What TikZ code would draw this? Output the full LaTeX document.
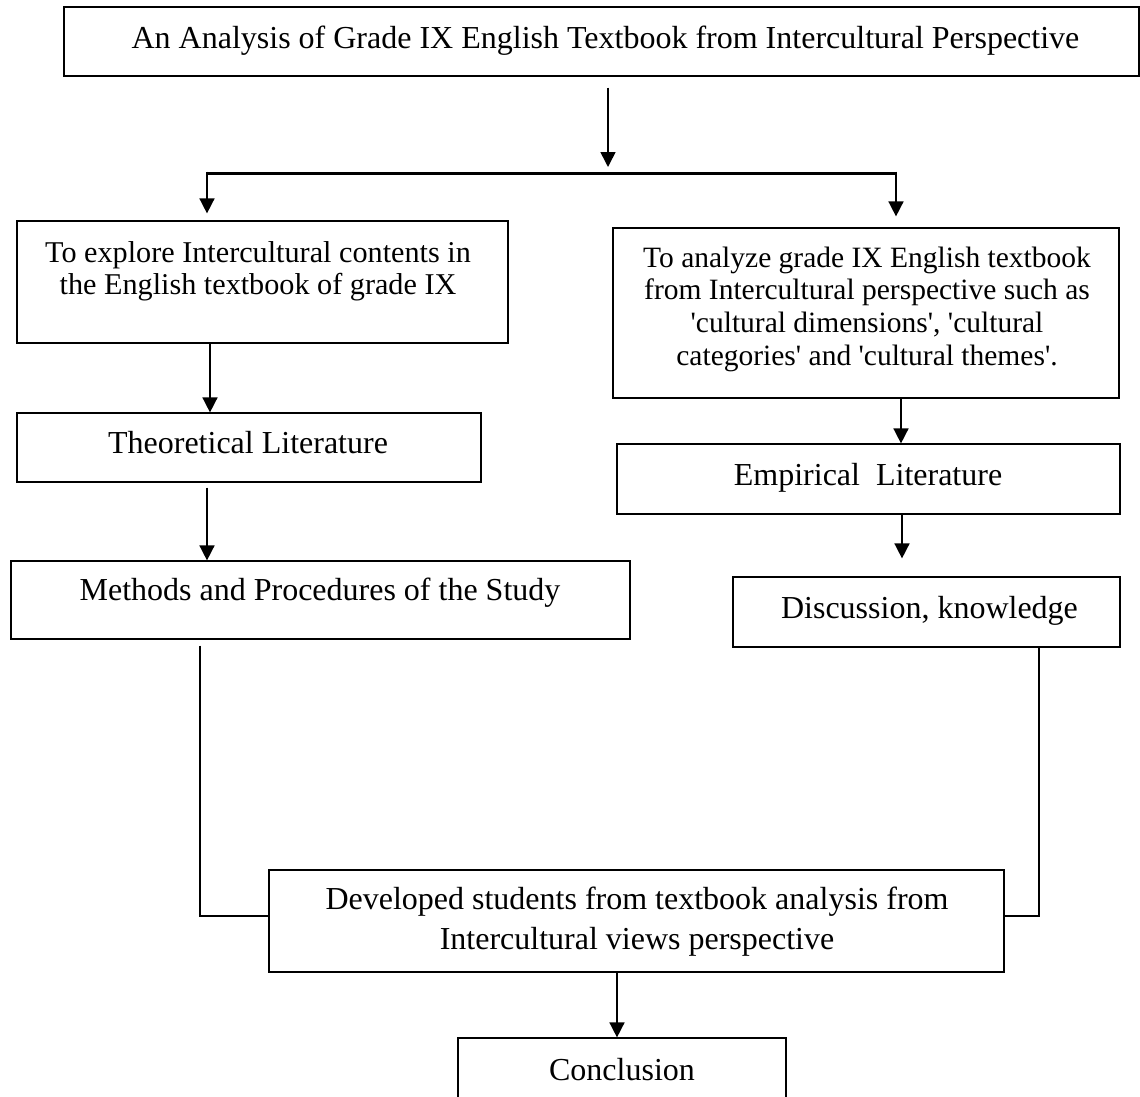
\documentclass[tikz,border=0pt]{standalone}
\usepackage{fontspec}
\newfontfamily\tnr{Liberation Serif}
\usetikzlibrary{arrows.meta,calc}
\begin{document}
\begin{tikzpicture}[x=1pt,y=-1pt,
  box/.style={draw, line width=1.2pt, inner sep=0pt},
  txt/.style={font=\tnr\fontsize{32}{33}\selectfont, inner sep=0pt, anchor=base},
  txtL/.style={font=\tnr\fontsize{30.2}{32}\selectfont, inner sep=0pt, anchor=base},
  txtR/.style={font=\tnr\fontsize{29.5}{32}\selectfont, inner sep=0pt, anchor=base},
  arr/.style={line width=1.6pt, -{Triangle[width=15pt,length=15pt]}},
  bar/.style={line width=3pt},
  joinline/.style={line width=1.8pt}]
\useasboundingbox (0,0) rectangle (1140,1097);
% boxes
\node[box, minimum width=1075pt, minimum height=69pt]  (T)   at (601.5,41.5) {};
\node[box, minimum width=491pt,  minimum height=122pt] (L1)  at (262.5,282) {};
\node[box, minimum width=464pt,  minimum height=69pt]  (Th)  at (249,447.5) {};
\node[box, minimum width=619pt,  minimum height=78pt]  (M)   at (320.5,600) {};
\node[box, minimum width=506pt,  minimum height=170pt] (R1)  at (866,313) {};
\node[box, minimum width=503pt,  minimum height=70pt]  (E)   at (868.5,479) {};
\node[box, minimum width=387pt,  minimum height=70pt]  (D)   at (926.5,612) {};
\node[box, minimum width=735pt,  minimum height=102pt] (Dev) at (636.5,921) {};
\node[box, minimum width=328pt,  minimum height=82pt]  (C)   at (622,1079) {};
% texts
\node[txt] (tT) at (605.5,48.5) {An Analysis of Grade IX English Textbook from Intercultural Perspective};
\node[txtL] (tL1a) at (258,262) {To explore Intercultural contents in};
\node[txtL] (tL1b) at (258,294) {the English textbook of grade IX};
\node[txt] (tTh) at (248,453) {Theoretical Literature};
\node[txt] (tM) at (320,600) {Methods and Procedures of the Study};
\node[txtR] (tR1a) at (867,267) {To analyze grade IX English textbook};
\node[txtR] (tR1b) at (867,299) {from Intercultural perspective such as};
\node[txtR] (tR1c) at (867,332) {'cultural dimensions', 'cultural};
\node[txtR] (tR1d) at (867,365) {categories' and 'cultural themes'.};
\node[txt] (tE) at (868,485) {Empirical\ \ Literature};
\node[txt] (tD) at (929.5,618) {Discussion, knowledge};
\node[txt] (tDa) at (637,909) {Developed students from textbook analysis from};
\node[txt] (tDb) at (637,949) {Intercultural views perspective};
\node[txt] (tC) at (622,1080) {Conclusion};
% coordinates
\coordinate (split) at (608,173);
\coordinate (splitL) at (207,173);
\coordinate (splitR) at (896,173);
\coordinate (xL1) at (210,0);
\coordinate (xTh) at (207,0);
\coordinate (xR1) at (901,0);
\coordinate (xE) at (902,0);
\coordinate (xM) at (200,0);
\coordinate (xD) at (1039,0);
\coordinate (xDev) at (617,0);
\coordinate (jn) at (0,916);
% connectors
\draw[arr] ($(T.south -| split)+(0,11)$) -- ($(split)+(0,-6)$);
\draw[bar] (splitL) -- (splitR);
\draw[arr, shorten >=7pt] ($(splitL)+(0,-1.5)$) -- (splitL |- L1.north);
\draw[arr, shorten >=11pt] ($(splitR)+(0,-1.5)$) -- (splitR |- R1.north);
\draw[arr] (L1.south -| xL1) -- (Th.north -| xL1);
\draw[arr] ($(Th.south -| xTh)+(0,5)$) -- (M.north -| xTh);
\draw[arr] (R1.south -| xR1) -- (E.north -| xR1);
\draw[arr, shorten >=18pt] (E.south -| xE) -- (D.north -| xE);
\draw[joinline] ($(M.south -| xM)+(0,6)$) -- (xM |- jn) -- (Dev.west |- jn);
\draw[joinline] (D.south -| xD) -- (xD |- jn) -- (Dev.east |- jn);
\draw[arr] (Dev.south -| xDev) -- (C.north -| xDev);
\end{tikzpicture}
\end{document}
